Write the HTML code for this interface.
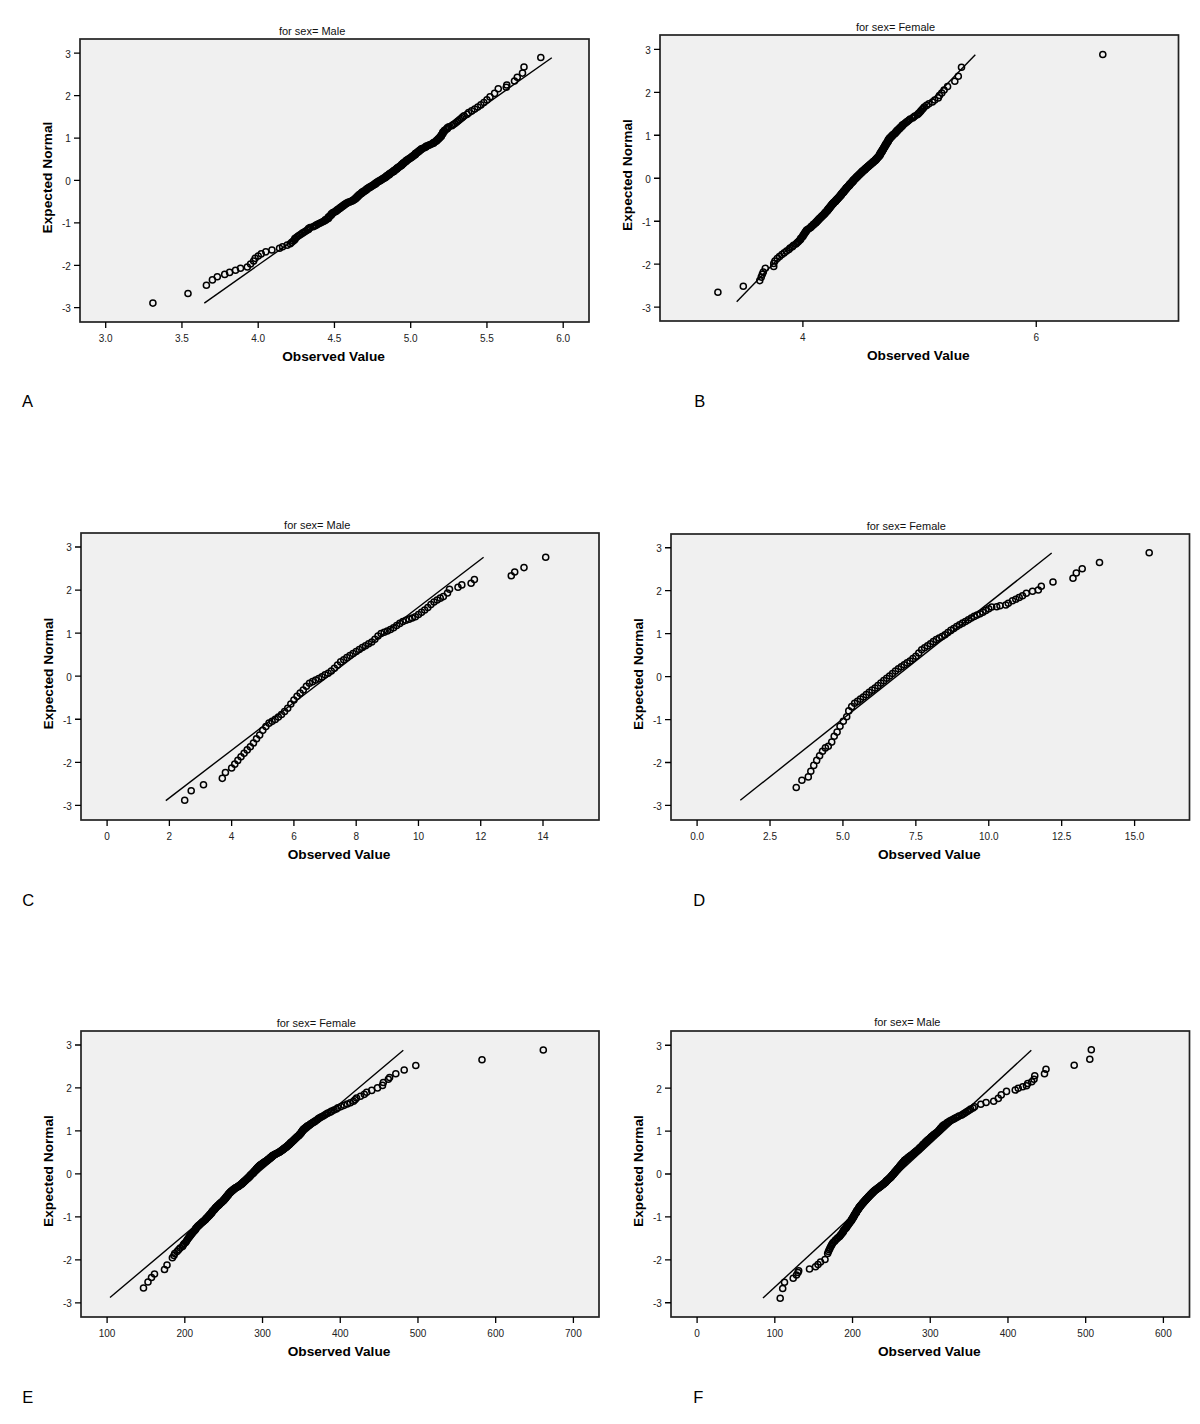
<!DOCTYPE html>
<html><head><meta charset="utf-8"><title>Q-Q plots</title>
<style>
html,body{margin:0;padding:0;background:#fff;}
svg{display:block;font-family:"Liberation Sans", sans-serif;}
</style></head>
<body>
<svg width="1200" height="1424" viewBox="0 0 1200 1424">
<rect width="1200" height="1424" fill="#fff"/>
<rect x="80" y="39" width="509" height="283" fill="#f0f0f0"/>
<g fill="none" stroke="#000" stroke-width="1.5"><circle cx="250.58" cy="264" r="3.05"/><circle cx="253.63" cy="261.01" r="3.05"/><circle cx="255.15" cy="258.36" r="3.05"/><circle cx="258.2" cy="255.99" r="3.05"/><circle cx="261.25" cy="253.84" r="3.05"/><circle cx="265.82" cy="251.86" r="3.05"/><circle cx="271.93" cy="250.02" r="3.05"/><circle cx="279.55" cy="248.3" r="3.05"/><circle cx="282.6" cy="246.69" r="3.05"/><circle cx="287.18" cy="245.17" r="3.05"/><circle cx="290.23" cy="243.73" r="3.05"/><circle cx="291.75" cy="242.36" r="3.05"/><circle cx="293.28" cy="241.05" r="3.05"/><circle cx="294.8" cy="239.8" r="3.05"/><circle cx="294.8" cy="238.59" r="3.05"/><circle cx="296.33" cy="237.43" r="3.05"/><circle cx="297.85" cy="236.31" r="3.05"/><circle cx="299.38" cy="235.23" r="3.05"/><circle cx="300.9" cy="234.19" r="3.05"/><circle cx="302.43" cy="233.17" r="3.05"/><circle cx="303.95" cy="232.18" r="3.05"/><circle cx="305.48" cy="231.23" r="3.05"/><circle cx="307" cy="230.29" r="3.05"/><circle cx="308.53" cy="229.38" r="3.05"/><circle cx="308.53" cy="228.5" r="3.05"/><circle cx="310.05" cy="227.63" r="3.05"/><circle cx="313.1" cy="226.78" r="3.05"/><circle cx="314.63" cy="225.95" r="3.05"/><circle cx="316.15" cy="225.14" r="3.05"/><circle cx="317.68" cy="224.34" r="3.05"/><circle cx="319.2" cy="223.56" r="3.05"/><circle cx="320.73" cy="222.79" r="3.05"/><circle cx="322.25" cy="222.04" r="3.05"/><circle cx="323.77" cy="221.3" r="3.05"/><circle cx="325.3" cy="220.57" r="3.05"/><circle cx="325.3" cy="219.86" r="3.05"/><circle cx="326.83" cy="219.15" r="3.05"/><circle cx="328.35" cy="218.46" r="3.05"/><circle cx="328.35" cy="217.77" r="3.05"/><circle cx="328.35" cy="217.1" r="3.05"/><circle cx="329.88" cy="216.43" r="3.05"/><circle cx="329.88" cy="215.77" r="3.05"/><circle cx="331.4" cy="215.12" r="3.05"/><circle cx="331.4" cy="214.48" r="3.05"/><circle cx="331.4" cy="213.85" r="3.05"/><circle cx="332.93" cy="213.22" r="3.05"/><circle cx="332.93" cy="212.6" r="3.05"/><circle cx="334.45" cy="211.99" r="3.05"/><circle cx="335.97" cy="211.39" r="3.05"/><circle cx="335.97" cy="210.79" r="3.05"/><circle cx="337.5" cy="210.19" r="3.05"/><circle cx="337.5" cy="209.61" r="3.05"/><circle cx="339.03" cy="209.02" r="3.05"/><circle cx="339.03" cy="208.45" r="3.05"/><circle cx="340.55" cy="207.88" r="3.05"/><circle cx="340.55" cy="207.31" r="3.05"/><circle cx="342.07" cy="206.75" r="3.05"/><circle cx="342.07" cy="206.19" r="3.05"/><circle cx="343.6" cy="205.64" r="3.05"/><circle cx="343.6" cy="205.09" r="3.05"/><circle cx="345.13" cy="204.54" r="3.05"/><circle cx="345.13" cy="204" r="3.05"/><circle cx="346.65" cy="203.47" r="3.05"/><circle cx="346.65" cy="202.93" r="3.05"/><circle cx="348.18" cy="202.4" r="3.05"/><circle cx="349.7" cy="201.88" r="3.05"/><circle cx="351.23" cy="201.35" r="3.05"/><circle cx="352.75" cy="200.83" r="3.05"/><circle cx="352.75" cy="200.32" r="3.05"/><circle cx="354.28" cy="199.8" r="3.05"/><circle cx="354.28" cy="199.29" r="3.05"/><circle cx="355.8" cy="198.78" r="3.05"/><circle cx="355.8" cy="198.28" r="3.05"/><circle cx="355.8" cy="197.77" r="3.05"/><circle cx="357.33" cy="197.27" r="3.05"/><circle cx="357.33" cy="196.78" r="3.05"/><circle cx="357.33" cy="196.28" r="3.05"/><circle cx="358.85" cy="195.79" r="3.05"/><circle cx="358.85" cy="195.29" r="3.05"/><circle cx="358.85" cy="194.8" r="3.05"/><circle cx="360.38" cy="194.32" r="3.05"/><circle cx="360.38" cy="193.83" r="3.05"/><circle cx="361.9" cy="193.34" r="3.05"/><circle cx="361.9" cy="192.86" r="3.05"/><circle cx="361.9" cy="192.38" r="3.05"/><circle cx="363.43" cy="191.9" r="3.05"/><circle cx="363.43" cy="191.42" r="3.05"/><circle cx="364.95" cy="190.95" r="3.05"/><circle cx="364.95" cy="190.47" r="3.05"/><circle cx="366.48" cy="190" r="3.05"/><circle cx="366.48" cy="189.52" r="3.05"/><circle cx="366.48" cy="189.05" r="3.05"/><circle cx="368" cy="188.58" r="3.05"/><circle cx="368" cy="188.11" r="3.05"/><circle cx="369.53" cy="187.64" r="3.05"/><circle cx="369.53" cy="187.17" r="3.05"/><circle cx="371.05" cy="186.71" r="3.05"/><circle cx="371.05" cy="186.24" r="3.05"/><circle cx="372.58" cy="185.77" r="3.05"/><circle cx="372.58" cy="185.31" r="3.05"/><circle cx="374.1" cy="184.84" r="3.05"/><circle cx="374.1" cy="184.38" r="3.05"/><circle cx="375.63" cy="183.92" r="3.05"/><circle cx="375.63" cy="183.45" r="3.05"/><circle cx="375.63" cy="182.99" r="3.05"/><circle cx="377.15" cy="182.53" r="3.05"/><circle cx="377.15" cy="182.07" r="3.05"/><circle cx="378.68" cy="181.6" r="3.05"/><circle cx="378.68" cy="181.14" r="3.05"/><circle cx="380.2" cy="180.68" r="3.05"/><circle cx="380.2" cy="180.22" r="3.05"/><circle cx="381.73" cy="179.76" r="3.05"/><circle cx="381.73" cy="179.3" r="3.05"/><circle cx="383.25" cy="178.83" r="3.05"/><circle cx="383.25" cy="178.37" r="3.05"/><circle cx="384.78" cy="177.91" r="3.05"/><circle cx="384.78" cy="177.45" r="3.05"/><circle cx="386.3" cy="176.98" r="3.05"/><circle cx="386.3" cy="176.52" r="3.05"/><circle cx="386.3" cy="176.06" r="3.05"/><circle cx="387.83" cy="175.59" r="3.05"/><circle cx="387.83" cy="175.13" r="3.05"/><circle cx="389.35" cy="174.66" r="3.05"/><circle cx="389.35" cy="174.19" r="3.05"/><circle cx="389.35" cy="173.73" r="3.05"/><circle cx="390.88" cy="173.26" r="3.05"/><circle cx="390.88" cy="172.79" r="3.05"/><circle cx="392.4" cy="172.32" r="3.05"/><circle cx="392.4" cy="171.85" r="3.05"/><circle cx="393.92" cy="171.38" r="3.05"/><circle cx="393.92" cy="170.9" r="3.05"/><circle cx="393.92" cy="170.43" r="3.05"/><circle cx="395.45" cy="169.95" r="3.05"/><circle cx="395.45" cy="169.48" r="3.05"/><circle cx="396.98" cy="169" r="3.05"/><circle cx="396.98" cy="168.52" r="3.05"/><circle cx="396.98" cy="168.04" r="3.05"/><circle cx="398.5" cy="167.56" r="3.05"/><circle cx="398.5" cy="167.07" r="3.05"/><circle cx="400.02" cy="166.58" r="3.05"/><circle cx="400.02" cy="166.1" r="3.05"/><circle cx="401.55" cy="165.61" r="3.05"/><circle cx="401.55" cy="165.11" r="3.05"/><circle cx="401.55" cy="164.62" r="3.05"/><circle cx="403.08" cy="164.12" r="3.05"/><circle cx="403.08" cy="163.63" r="3.05"/><circle cx="403.08" cy="163.13" r="3.05"/><circle cx="404.6" cy="162.62" r="3.05"/><circle cx="404.6" cy="162.12" r="3.05"/><circle cx="406.12" cy="161.61" r="3.05"/><circle cx="406.12" cy="161.1" r="3.05"/><circle cx="406.12" cy="160.58" r="3.05"/><circle cx="407.65" cy="160.07" r="3.05"/><circle cx="407.65" cy="159.55" r="3.05"/><circle cx="409.18" cy="159.02" r="3.05"/><circle cx="409.18" cy="158.5" r="3.05"/><circle cx="410.7" cy="157.97" r="3.05"/><circle cx="410.7" cy="157.43" r="3.05"/><circle cx="412.23" cy="156.9" r="3.05"/><circle cx="412.23" cy="156.36" r="3.05"/><circle cx="413.75" cy="155.81" r="3.05"/><circle cx="413.75" cy="155.26" r="3.05"/><circle cx="415.28" cy="154.71" r="3.05"/><circle cx="415.28" cy="154.15" r="3.05"/><circle cx="415.28" cy="153.59" r="3.05"/><circle cx="416.8" cy="153.02" r="3.05"/><circle cx="416.8" cy="152.45" r="3.05"/><circle cx="418.32" cy="151.88" r="3.05"/><circle cx="418.32" cy="151.29" r="3.05"/><circle cx="419.85" cy="150.71" r="3.05"/><circle cx="419.85" cy="150.11" r="3.05"/><circle cx="421.38" cy="149.51" r="3.05"/><circle cx="421.38" cy="148.91" r="3.05"/><circle cx="422.9" cy="148.3" r="3.05"/><circle cx="424.43" cy="147.68" r="3.05"/><circle cx="425.95" cy="147.05" r="3.05"/><circle cx="425.95" cy="146.42" r="3.05"/><circle cx="427.48" cy="145.78" r="3.05"/><circle cx="429" cy="145.13" r="3.05"/><circle cx="430.52" cy="144.47" r="3.05"/><circle cx="432.05" cy="143.8" r="3.05"/><circle cx="433.58" cy="143.13" r="3.05"/><circle cx="433.58" cy="142.44" r="3.05"/><circle cx="435.1" cy="141.75" r="3.05"/><circle cx="436.62" cy="141.04" r="3.05"/><circle cx="436.62" cy="140.33" r="3.05"/><circle cx="438.15" cy="139.6" r="3.05"/><circle cx="438.15" cy="138.86" r="3.05"/><circle cx="439.68" cy="138.11" r="3.05"/><circle cx="439.68" cy="137.34" r="3.05"/><circle cx="441.2" cy="136.56" r="3.05"/><circle cx="441.2" cy="135.76" r="3.05"/><circle cx="441.2" cy="134.95" r="3.05"/><circle cx="442.73" cy="134.12" r="3.05"/><circle cx="442.73" cy="133.27" r="3.05"/><circle cx="442.73" cy="132.4" r="3.05"/><circle cx="444.25" cy="131.52" r="3.05"/><circle cx="444.25" cy="130.61" r="3.05"/><circle cx="445.78" cy="129.67" r="3.05"/><circle cx="447.3" cy="128.72" r="3.05"/><circle cx="447.3" cy="127.73" r="3.05"/><circle cx="448.83" cy="126.71" r="3.05"/><circle cx="451.88" cy="125.67" r="3.05"/><circle cx="453.4" cy="124.59" r="3.05"/><circle cx="454.93" cy="123.47" r="3.05"/><circle cx="456.45" cy="122.31" r="3.05"/><circle cx="457.98" cy="121.1" r="3.05"/><circle cx="459.5" cy="119.85" r="3.05"/><circle cx="461.03" cy="118.54" r="3.05"/><circle cx="462.55" cy="117.17" r="3.05"/><circle cx="464.08" cy="115.73" r="3.05"/><circle cx="467.12" cy="114.21" r="3.05"/><circle cx="468.65" cy="112.6" r="3.05"/><circle cx="471.7" cy="110.88" r="3.05"/><circle cx="474.75" cy="109.04" r="3.05"/><circle cx="477.8" cy="107.06" r="3.05"/><circle cx="480.85" cy="104.91" r="3.05"/><circle cx="483.9" cy="102.54" r="3.05"/><circle cx="486.95" cy="99.89" r="3.05"/><circle cx="490" cy="96.9" r="3.05"/><circle cx="494.57" cy="93.41" r="3.05"/><circle cx="152.9" cy="303.1" r="3.05"/><circle cx="188" cy="293.5" r="3.05"/><circle cx="206.4" cy="285.3" r="3.05"/><circle cx="212.4" cy="279.9" r="3.05"/><circle cx="217.3" cy="276.7" r="3.05"/><circle cx="224.7" cy="274.4" r="3.05"/><circle cx="229.6" cy="272.4" r="3.05"/><circle cx="235.5" cy="270.3" r="3.05"/><circle cx="240.5" cy="268.2" r="3.05"/><circle cx="247.3" cy="267" r="3.05"/><circle cx="498.25" cy="88.75" r="3.05"/><circle cx="506.25" cy="87.25" r="3.05"/><circle cx="506.75" cy="85" r="3.05"/><circle cx="514.5" cy="81" r="3.05"/><circle cx="517.25" cy="77.25" r="3.05"/><circle cx="522.5" cy="73.1" r="3.05"/><circle cx="524" cy="67" r="3.05"/><circle cx="540.8" cy="57.5" r="3.05"/></g>
<line x1="204.3" y1="303.1" x2="551.8" y2="57.8" stroke="#000" stroke-width="1.4"/>
<rect x="80" y="39" width="509" height="283" fill="none" stroke="#222" stroke-width="1.7"/>
<path d="M74 53.2H80M74 95.62H80M74 138.03H80M74 180.45H80M74 222.87H80M74 265.28H80M74 307.7H80M105.7 322V328M181.95 322V328M258.2 322V328M334.45 322V328M410.7 322V328M486.95 322V328M563.2 322V328" stroke="#000" stroke-width="1.3" fill="none"/>
<g font-size="10" fill="#222"><text x="70.8" y="57.6" text-anchor="end">3</text><text x="70.8" y="100.02" text-anchor="end">2</text><text x="70.8" y="142.43" text-anchor="end">1</text><text x="70.8" y="184.85" text-anchor="end">0</text><text x="70.8" y="227.27" text-anchor="end">-1</text><text x="70.8" y="269.68" text-anchor="end">-2</text><text x="70.8" y="312.1" text-anchor="end">-3</text><text x="105.7" y="341.6" text-anchor="middle">3.0</text><text x="181.95" y="341.6" text-anchor="middle">3.5</text><text x="258.2" y="341.6" text-anchor="middle">4.0</text><text x="334.45" y="341.6" text-anchor="middle">4.5</text><text x="410.7" y="341.6" text-anchor="middle">5.0</text><text x="486.95" y="341.6" text-anchor="middle">5.5</text><text x="563.2" y="341.6" text-anchor="middle">6.0</text></g>
<text x="312.1" y="34.6" text-anchor="middle" font-size="11" fill="#111">for sex= Male</text>
<text x="333.5" y="361" text-anchor="middle" font-size="13.7" font-weight="bold" fill="#000">Observed Value</text>
<text transform="translate(52.2 177.5) rotate(-90)" text-anchor="middle" font-size="13.7" font-weight="bold" fill="#000">Expected Normal</text>
<text x="22.0" y="407.3" font-size="16.5" fill="#000">A</text>
<rect x="660" y="35" width="518.5" height="286" fill="#f0f0f0"/>
<g fill="none" stroke="#000" stroke-width="1.5"><circle cx="773.73" cy="266.46" r="3.05"/><circle cx="773.73" cy="263.52" r="3.05"/><circle cx="774.9" cy="260.93" r="3.05"/><circle cx="777.23" cy="258.61" r="3.05"/><circle cx="779.57" cy="256.5" r="3.05"/><circle cx="781.9" cy="254.56" r="3.05"/><circle cx="784.23" cy="252.77" r="3.05"/><circle cx="786.57" cy="251.1" r="3.05"/><circle cx="788.9" cy="249.53" r="3.05"/><circle cx="790.07" cy="248.06" r="3.05"/><circle cx="792.4" cy="246.66" r="3.05"/><circle cx="793.57" cy="245.33" r="3.05"/><circle cx="795.9" cy="244.06" r="3.05"/><circle cx="797.07" cy="242.84" r="3.05"/><circle cx="798.23" cy="241.68" r="3.05"/><circle cx="799.4" cy="240.56" r="3.05"/><circle cx="800.57" cy="239.48" r="3.05"/><circle cx="800.57" cy="238.43" r="3.05"/><circle cx="801.73" cy="237.43" r="3.05"/><circle cx="802.9" cy="236.45" r="3.05"/><circle cx="802.9" cy="235.5" r="3.05"/><circle cx="804.07" cy="234.58" r="3.05"/><circle cx="804.07" cy="233.69" r="3.05"/><circle cx="805.23" cy="232.82" r="3.05"/><circle cx="805.23" cy="231.97" r="3.05"/><circle cx="806.4" cy="231.14" r="3.05"/><circle cx="806.4" cy="230.33" r="3.05"/><circle cx="807.57" cy="229.53" r="3.05"/><circle cx="808.73" cy="228.76" r="3.05"/><circle cx="809.9" cy="228" r="3.05"/><circle cx="811.07" cy="227.26" r="3.05"/><circle cx="811.07" cy="226.53" r="3.05"/><circle cx="812.23" cy="225.81" r="3.05"/><circle cx="813.4" cy="225.11" r="3.05"/><circle cx="813.4" cy="224.42" r="3.05"/><circle cx="814.57" cy="223.74" r="3.05"/><circle cx="815.73" cy="223.07" r="3.05"/><circle cx="815.73" cy="222.41" r="3.05"/><circle cx="816.9" cy="221.77" r="3.05"/><circle cx="816.9" cy="221.13" r="3.05"/><circle cx="818.07" cy="220.5" r="3.05"/><circle cx="818.07" cy="219.88" r="3.05"/><circle cx="819.23" cy="219.27" r="3.05"/><circle cx="819.23" cy="218.67" r="3.05"/><circle cx="820.4" cy="218.08" r="3.05"/><circle cx="820.4" cy="217.49" r="3.05"/><circle cx="821.57" cy="216.91" r="3.05"/><circle cx="821.57" cy="216.34" r="3.05"/><circle cx="822.73" cy="215.77" r="3.05"/><circle cx="822.73" cy="215.21" r="3.05"/><circle cx="823.9" cy="214.66" r="3.05"/><circle cx="823.9" cy="214.11" r="3.05"/><circle cx="825.07" cy="213.57" r="3.05"/><circle cx="825.07" cy="213.03" r="3.05"/><circle cx="825.07" cy="212.5" r="3.05"/><circle cx="826.24" cy="211.98" r="3.05"/><circle cx="826.24" cy="211.46" r="3.05"/><circle cx="827.4" cy="210.94" r="3.05"/><circle cx="827.4" cy="210.43" r="3.05"/><circle cx="827.4" cy="209.92" r="3.05"/><circle cx="828.57" cy="209.42" r="3.05"/><circle cx="828.57" cy="208.92" r="3.05"/><circle cx="828.57" cy="208.43" r="3.05"/><circle cx="829.74" cy="207.94" r="3.05"/><circle cx="829.74" cy="207.45" r="3.05"/><circle cx="829.74" cy="206.97" r="3.05"/><circle cx="830.9" cy="206.49" r="3.05"/><circle cx="830.9" cy="206.02" r="3.05"/><circle cx="830.9" cy="205.54" r="3.05"/><circle cx="832.07" cy="205.08" r="3.05"/><circle cx="832.07" cy="204.61" r="3.05"/><circle cx="832.07" cy="204.15" r="3.05"/><circle cx="833.24" cy="203.69" r="3.05"/><circle cx="833.24" cy="203.23" r="3.05"/><circle cx="833.24" cy="202.78" r="3.05"/><circle cx="834.4" cy="202.33" r="3.05"/><circle cx="834.4" cy="201.88" r="3.05"/><circle cx="835.57" cy="201.43" r="3.05"/><circle cx="835.57" cy="200.99" r="3.05"/><circle cx="835.57" cy="200.55" r="3.05"/><circle cx="836.74" cy="200.11" r="3.05"/><circle cx="836.74" cy="199.67" r="3.05"/><circle cx="836.74" cy="199.24" r="3.05"/><circle cx="837.9" cy="198.81" r="3.05"/><circle cx="837.9" cy="198.38" r="3.05"/><circle cx="837.9" cy="197.95" r="3.05"/><circle cx="839.07" cy="197.52" r="3.05"/><circle cx="839.07" cy="197.1" r="3.05"/><circle cx="839.07" cy="196.68" r="3.05"/><circle cx="840.24" cy="196.26" r="3.05"/><circle cx="840.24" cy="195.84" r="3.05"/><circle cx="840.24" cy="195.42" r="3.05"/><circle cx="841.4" cy="195" r="3.05"/><circle cx="841.4" cy="194.59" r="3.05"/><circle cx="841.4" cy="194.18" r="3.05"/><circle cx="841.4" cy="193.77" r="3.05"/><circle cx="842.57" cy="193.36" r="3.05"/><circle cx="842.57" cy="192.95" r="3.05"/><circle cx="842.57" cy="192.54" r="3.05"/><circle cx="843.74" cy="192.14" r="3.05"/><circle cx="843.74" cy="191.73" r="3.05"/><circle cx="843.74" cy="191.33" r="3.05"/><circle cx="843.74" cy="190.93" r="3.05"/><circle cx="844.9" cy="190.53" r="3.05"/><circle cx="844.9" cy="190.13" r="3.05"/><circle cx="844.9" cy="189.73" r="3.05"/><circle cx="846.07" cy="189.33" r="3.05"/><circle cx="846.07" cy="188.93" r="3.05"/><circle cx="846.07" cy="188.54" r="3.05"/><circle cx="846.07" cy="188.14" r="3.05"/><circle cx="847.24" cy="187.75" r="3.05"/><circle cx="847.24" cy="187.35" r="3.05"/><circle cx="847.24" cy="186.96" r="3.05"/><circle cx="848.4" cy="186.57" r="3.05"/><circle cx="848.4" cy="186.18" r="3.05"/><circle cx="848.4" cy="185.79" r="3.05"/><circle cx="849.57" cy="185.4" r="3.05"/><circle cx="849.57" cy="185.01" r="3.05"/><circle cx="849.57" cy="184.62" r="3.05"/><circle cx="849.57" cy="184.23" r="3.05"/><circle cx="850.74" cy="183.84" r="3.05"/><circle cx="850.74" cy="183.45" r="3.05"/><circle cx="850.74" cy="183.07" r="3.05"/><circle cx="851.9" cy="182.68" r="3.05"/><circle cx="851.9" cy="182.29" r="3.05"/><circle cx="851.9" cy="181.91" r="3.05"/><circle cx="853.07" cy="181.52" r="3.05"/><circle cx="853.07" cy="181.14" r="3.05"/><circle cx="853.07" cy="180.75" r="3.05"/><circle cx="853.07" cy="180.37" r="3.05"/><circle cx="854.24" cy="179.98" r="3.05"/><circle cx="854.24" cy="179.6" r="3.05"/><circle cx="854.24" cy="179.21" r="3.05"/><circle cx="855.4" cy="178.83" r="3.05"/><circle cx="855.4" cy="178.44" r="3.05"/><circle cx="855.4" cy="178.06" r="3.05"/><circle cx="856.57" cy="177.67" r="3.05"/><circle cx="856.57" cy="177.29" r="3.05"/><circle cx="856.57" cy="176.9" r="3.05"/><circle cx="857.74" cy="176.52" r="3.05"/><circle cx="857.74" cy="176.13" r="3.05"/><circle cx="857.74" cy="175.75" r="3.05"/><circle cx="858.9" cy="175.36" r="3.05"/><circle cx="858.9" cy="174.98" r="3.05"/><circle cx="858.9" cy="174.59" r="3.05"/><circle cx="860.07" cy="174.21" r="3.05"/><circle cx="860.07" cy="173.82" r="3.05"/><circle cx="860.07" cy="173.43" r="3.05"/><circle cx="861.24" cy="173.05" r="3.05"/><circle cx="861.24" cy="172.66" r="3.05"/><circle cx="861.24" cy="172.27" r="3.05"/><circle cx="862.4" cy="171.88" r="3.05"/><circle cx="862.4" cy="171.49" r="3.05"/><circle cx="862.4" cy="171.1" r="3.05"/><circle cx="863.57" cy="170.71" r="3.05"/><circle cx="863.57" cy="170.32" r="3.05"/><circle cx="864.74" cy="169.93" r="3.05"/><circle cx="864.74" cy="169.54" r="3.05"/><circle cx="864.74" cy="169.15" r="3.05"/><circle cx="865.9" cy="168.75" r="3.05"/><circle cx="865.9" cy="168.36" r="3.05"/><circle cx="865.9" cy="167.96" r="3.05"/><circle cx="867.07" cy="167.57" r="3.05"/><circle cx="867.07" cy="167.17" r="3.05"/><circle cx="868.24" cy="166.77" r="3.05"/><circle cx="868.24" cy="166.37" r="3.05"/><circle cx="868.24" cy="165.97" r="3.05"/><circle cx="869.4" cy="165.57" r="3.05"/><circle cx="869.4" cy="165.17" r="3.05"/><circle cx="870.57" cy="164.77" r="3.05"/><circle cx="870.57" cy="164.36" r="3.05"/><circle cx="870.57" cy="163.96" r="3.05"/><circle cx="871.74" cy="163.55" r="3.05"/><circle cx="871.74" cy="163.14" r="3.05"/><circle cx="872.91" cy="162.73" r="3.05"/><circle cx="872.91" cy="162.32" r="3.05"/><circle cx="872.91" cy="161.91" r="3.05"/><circle cx="874.07" cy="161.5" r="3.05"/><circle cx="874.07" cy="161.08" r="3.05"/><circle cx="875.24" cy="160.66" r="3.05"/><circle cx="875.24" cy="160.24" r="3.05"/><circle cx="875.24" cy="159.82" r="3.05"/><circle cx="876.41" cy="159.4" r="3.05"/><circle cx="876.41" cy="158.98" r="3.05"/><circle cx="876.41" cy="158.55" r="3.05"/><circle cx="877.57" cy="158.12" r="3.05"/><circle cx="877.57" cy="157.69" r="3.05"/><circle cx="877.57" cy="157.26" r="3.05"/><circle cx="878.74" cy="156.83" r="3.05"/><circle cx="878.74" cy="156.39" r="3.05"/><circle cx="878.74" cy="155.95" r="3.05"/><circle cx="879.91" cy="155.51" r="3.05"/><circle cx="879.91" cy="155.07" r="3.05"/><circle cx="879.91" cy="154.62" r="3.05"/><circle cx="879.91" cy="154.17" r="3.05"/><circle cx="879.91" cy="153.72" r="3.05"/><circle cx="881.07" cy="153.27" r="3.05"/><circle cx="881.07" cy="152.81" r="3.05"/><circle cx="881.07" cy="152.35" r="3.05"/><circle cx="881.07" cy="151.89" r="3.05"/><circle cx="882.24" cy="151.42" r="3.05"/><circle cx="882.24" cy="150.96" r="3.05"/><circle cx="882.24" cy="150.48" r="3.05"/><circle cx="882.24" cy="150.01" r="3.05"/><circle cx="883.41" cy="149.53" r="3.05"/><circle cx="883.41" cy="149.05" r="3.05"/><circle cx="883.41" cy="148.56" r="3.05"/><circle cx="883.41" cy="148.07" r="3.05"/><circle cx="884.57" cy="147.58" r="3.05"/><circle cx="884.57" cy="147.08" r="3.05"/><circle cx="884.57" cy="146.58" r="3.05"/><circle cx="884.57" cy="146.07" r="3.05"/><circle cx="885.74" cy="145.56" r="3.05"/><circle cx="885.74" cy="145.04" r="3.05"/><circle cx="885.74" cy="144.52" r="3.05"/><circle cx="885.74" cy="144" r="3.05"/><circle cx="886.91" cy="143.47" r="3.05"/><circle cx="886.91" cy="142.93" r="3.05"/><circle cx="886.91" cy="142.39" r="3.05"/><circle cx="888.07" cy="141.84" r="3.05"/><circle cx="888.07" cy="141.29" r="3.05"/><circle cx="888.07" cy="140.73" r="3.05"/><circle cx="888.07" cy="140.16" r="3.05"/><circle cx="889.24" cy="139.59" r="3.05"/><circle cx="889.24" cy="139.01" r="3.05"/><circle cx="889.24" cy="138.42" r="3.05"/><circle cx="890.41" cy="137.83" r="3.05"/><circle cx="890.41" cy="137.23" r="3.05"/><circle cx="891.57" cy="136.62" r="3.05"/><circle cx="891.57" cy="136" r="3.05"/><circle cx="892.74" cy="135.37" r="3.05"/><circle cx="892.74" cy="134.73" r="3.05"/><circle cx="893.91" cy="134.09" r="3.05"/><circle cx="895.07" cy="133.43" r="3.05"/><circle cx="895.07" cy="132.76" r="3.05"/><circle cx="896.24" cy="132.08" r="3.05"/><circle cx="896.24" cy="131.39" r="3.05"/><circle cx="897.41" cy="130.69" r="3.05"/><circle cx="897.41" cy="129.97" r="3.05"/><circle cx="898.57" cy="129.24" r="3.05"/><circle cx="899.74" cy="128.5" r="3.05"/><circle cx="899.74" cy="127.74" r="3.05"/><circle cx="900.91" cy="126.97" r="3.05"/><circle cx="902.07" cy="126.17" r="3.05"/><circle cx="902.07" cy="125.36" r="3.05"/><circle cx="903.24" cy="124.53" r="3.05"/><circle cx="904.41" cy="123.68" r="3.05"/><circle cx="905.57" cy="122.81" r="3.05"/><circle cx="906.74" cy="121.92" r="3.05"/><circle cx="907.91" cy="121" r="3.05"/><circle cx="909.07" cy="120.05" r="3.05"/><circle cx="910.24" cy="119.07" r="3.05"/><circle cx="912.57" cy="118.07" r="3.05"/><circle cx="913.74" cy="117.02" r="3.05"/><circle cx="914.91" cy="115.94" r="3.05"/><circle cx="917.24" cy="114.82" r="3.05"/><circle cx="918.41" cy="113.66" r="3.05"/><circle cx="919.58" cy="112.44" r="3.05"/><circle cx="920.74" cy="111.17" r="3.05"/><circle cx="921.91" cy="109.84" r="3.05"/><circle cx="923.08" cy="108.44" r="3.05"/><circle cx="924.24" cy="106.97" r="3.05"/><circle cx="926.58" cy="105.4" r="3.05"/><circle cx="928.91" cy="103.73" r="3.05"/><circle cx="932.41" cy="101.94" r="3.05"/><circle cx="934.74" cy="100" r="3.05"/><circle cx="938.24" cy="97.89" r="3.05"/><circle cx="939.41" cy="95.57" r="3.05"/><circle cx="941.74" cy="92.98" r="3.05"/><circle cx="944.08" cy="90.04" r="3.05"/><circle cx="947.58" cy="86.61" r="3.05"/><circle cx="717.9" cy="292.3" r="3.05"/><circle cx="743.3" cy="286.25" r="3.05"/><circle cx="759.75" cy="280.6" r="3.05"/><circle cx="761.25" cy="277.1" r="3.05"/><circle cx="762.3" cy="274.2" r="3.05"/><circle cx="763.3" cy="272.1" r="3.05"/><circle cx="765.3" cy="268.3" r="3.05"/><circle cx="954.8" cy="81.3" r="3.05"/><circle cx="958.3" cy="76.3" r="3.05"/><circle cx="961.5" cy="67.3" r="3.05"/><circle cx="1102.8" cy="54.5" r="3.05"/></g>
<line x1="736.7" y1="301.8" x2="975.3" y2="54.7" stroke="#000" stroke-width="1.4"/>
<rect x="660" y="35" width="518.5" height="286" fill="none" stroke="#222" stroke-width="1.7"/>
<path d="M654 49.3H660M654 92.28H660M654 135.27H660M654 178.25H660M654 221.23H660M654 264.22H660M654 307.2H660M802.9 321V327M1036.25 321V327" stroke="#000" stroke-width="1.3" fill="none"/>
<g font-size="10" fill="#222"><text x="650.8" y="53.7" text-anchor="end">3</text><text x="650.8" y="96.68" text-anchor="end">2</text><text x="650.8" y="139.67" text-anchor="end">1</text><text x="650.8" y="182.65" text-anchor="end">0</text><text x="650.8" y="225.63" text-anchor="end">-1</text><text x="650.8" y="268.62" text-anchor="end">-2</text><text x="650.8" y="311.6" text-anchor="end">-3</text><text x="802.9" y="340.6" text-anchor="middle">4</text><text x="1036.25" y="340.6" text-anchor="middle">6</text></g>
<text x="895.5" y="31.0" text-anchor="middle" font-size="11" fill="#111">for sex= Female</text>
<text x="918.25" y="360" text-anchor="middle" font-size="13.7" font-weight="bold" fill="#000">Observed Value</text>
<text transform="translate(632.2 175) rotate(-90)" text-anchor="middle" font-size="13.7" font-weight="bold" fill="#000">Expected Normal</text>
<text x="694.3" y="407.3" font-size="16.5" fill="#000">B</text>
<rect x="81" y="533" width="518" height="287" fill="#f0f0f0"/>
<g fill="none" stroke="#000" stroke-width="1.5"><circle cx="222.3" cy="778.36" r="3.05"/><circle cx="225.42" cy="772.52" r="3.05"/><circle cx="231.64" cy="768.07" r="3.05"/><circle cx="234.76" cy="764.13" r="3.05"/><circle cx="237.87" cy="760.37" r="3.05"/><circle cx="240.98" cy="756.69" r="3.05"/><circle cx="244.1" cy="753.36" r="3.05"/><circle cx="247.21" cy="749.89" r="3.05"/><circle cx="250.32" cy="746.78" r="3.05"/><circle cx="253.44" cy="743.01" r="3.05"/><circle cx="256.55" cy="738.75" r="3.05"/><circle cx="259.66" cy="735.1" r="3.05"/><circle cx="262.78" cy="730.36" r="3.05"/><circle cx="265.89" cy="726.6" r="3.05"/><circle cx="269.01" cy="723.13" r="3.05"/><circle cx="272.12" cy="721.37" r="3.05"/><circle cx="275.23" cy="719.4" r="3.05"/><circle cx="278.35" cy="717.11" r="3.05"/><circle cx="281.46" cy="714.46" r="3.05"/><circle cx="284.57" cy="711.43" r="3.05"/><circle cx="287.69" cy="708.31" r="3.05"/><circle cx="290.8" cy="704.07" r="3.05"/><circle cx="293.91" cy="700.1" r="3.05"/><circle cx="297.03" cy="696.36" r="3.05"/><circle cx="300.14" cy="693.16" r="3.05"/><circle cx="303.25" cy="690.04" r="3.05"/><circle cx="306.37" cy="686.32" r="3.05"/><circle cx="309.48" cy="683.21" r="3.05"/><circle cx="312.6" cy="681.65" r="3.05"/><circle cx="315.71" cy="680.1" r="3.05"/><circle cx="318.82" cy="678.54" r="3.05"/><circle cx="321.94" cy="676.89" r="3.05"/><circle cx="325.05" cy="674.86" r="3.05"/><circle cx="328.16" cy="673.27" r="3.05"/><circle cx="331.28" cy="671.12" r="3.05"/><circle cx="334.39" cy="668.33" r="3.05"/><circle cx="337.5" cy="664.98" r="3.05"/><circle cx="340.62" cy="661.88" r="3.05"/><circle cx="343.73" cy="659.74" r="3.05"/><circle cx="346.84" cy="657.6" r="3.05"/><circle cx="349.96" cy="655.53" r="3.05"/><circle cx="353.07" cy="653.45" r="3.05"/><circle cx="356.19" cy="651.45" r="3.05"/><circle cx="359.3" cy="649.45" r="3.05"/><circle cx="362.41" cy="647.56" r="3.05"/><circle cx="365.53" cy="645.7" r="3.05"/><circle cx="368.64" cy="643.82" r="3.05"/><circle cx="371.75" cy="641.94" r="3.05"/><circle cx="374.87" cy="639.29" r="3.05"/><circle cx="377.98" cy="636.02" r="3.05"/><circle cx="381.09" cy="633.56" r="3.05"/><circle cx="384.21" cy="632.3" r="3.05"/><circle cx="387.32" cy="630.99" r="3.05"/><circle cx="390.43" cy="629.43" r="3.05"/><circle cx="393.55" cy="627.81" r="3.05"/><circle cx="396.66" cy="625.44" r="3.05"/><circle cx="399.78" cy="623.38" r="3.05"/><circle cx="402.89" cy="621.51" r="3.05"/><circle cx="406" cy="620.23" r="3.05"/><circle cx="409.12" cy="619.17" r="3.05"/><circle cx="412.23" cy="617.96" r="3.05"/><circle cx="415.34" cy="616.72" r="3.05"/><circle cx="418.46" cy="614.56" r="3.05"/><circle cx="421.57" cy="612.36" r="3.05"/><circle cx="424.68" cy="610.02" r="3.05"/><circle cx="427.8" cy="607.54" r="3.05"/><circle cx="430.91" cy="604.59" r="3.05"/><circle cx="434.02" cy="601.97" r="3.05"/><circle cx="437.14" cy="599.95" r="3.05"/><circle cx="440.25" cy="598.16" r="3.05"/><circle cx="443.37" cy="596.61" r="3.05"/><circle cx="184.7" cy="800.3" r="3.05"/><circle cx="191.2" cy="790.8" r="3.05"/><circle cx="203.5" cy="784.8" r="3.05"/><circle cx="447.5" cy="593" r="3.05"/><circle cx="449.5" cy="589.25" r="3.05"/><circle cx="458" cy="587.2" r="3.05"/><circle cx="461.8" cy="584.9" r="3.05"/><circle cx="471.1" cy="583.3" r="3.05"/><circle cx="474.4" cy="579.6" r="3.05"/><circle cx="511.3" cy="575.7" r="3.05"/><circle cx="514.7" cy="572" r="3.05"/><circle cx="524" cy="567.6" r="3.05"/><circle cx="545.7" cy="557.3" r="3.05"/></g>
<line x1="165.8" y1="800.6" x2="483.6" y2="557.3" stroke="#000" stroke-width="1.4"/>
<rect x="81" y="533" width="518" height="287" fill="none" stroke="#222" stroke-width="1.7"/>
<path d="M75 547H81M75 590.07H81M75 633.13H81M75 676.2H81M75 719.27H81M75 762.33H81M75 805.4H81M107.1 820V826M169.37 820V826M231.64 820V826M293.91 820V826M356.19 820V826M418.46 820V826M480.73 820V826M543 820V826" stroke="#000" stroke-width="1.3" fill="none"/>
<g font-size="10" fill="#222"><text x="71.8" y="551.4" text-anchor="end">3</text><text x="71.8" y="594.47" text-anchor="end">2</text><text x="71.8" y="637.53" text-anchor="end">1</text><text x="71.8" y="680.6" text-anchor="end">0</text><text x="71.8" y="723.67" text-anchor="end">-1</text><text x="71.8" y="766.73" text-anchor="end">-2</text><text x="71.8" y="809.8" text-anchor="end">-3</text><text x="107.1" y="839.6" text-anchor="middle">0</text><text x="169.37" y="839.6" text-anchor="middle">2</text><text x="231.64" y="839.6" text-anchor="middle">4</text><text x="293.91" y="839.6" text-anchor="middle">6</text><text x="356.19" y="839.6" text-anchor="middle">8</text><text x="418.46" y="839.6" text-anchor="middle">10</text><text x="480.73" y="839.6" text-anchor="middle">12</text><text x="543" y="839.6" text-anchor="middle">14</text></g>
<text x="317.25" y="528.5" text-anchor="middle" font-size="11" fill="#111">for sex= Male</text>
<text x="339" y="859" text-anchor="middle" font-size="13.7" font-weight="bold" fill="#000">Observed Value</text>
<text transform="translate(53.2 673.5) rotate(-90)" text-anchor="middle" font-size="13.7" font-weight="bold" fill="#000">Expected Normal</text>
<text x="22.3" y="906.1" font-size="16.5" fill="#000">C</text>
<rect x="671" y="534" width="518.5" height="286" fill="#f0f0f0"/>
<g fill="none" stroke="#000" stroke-width="1.5"><circle cx="848.77" cy="710.91" r="3.05"/><circle cx="851.68" cy="706.67" r="3.05"/><circle cx="854.6" cy="703.24" r="3.05"/><circle cx="857.52" cy="701.38" r="3.05"/><circle cx="860.43" cy="699.17" r="3.05"/><circle cx="863.35" cy="696.96" r="3.05"/><circle cx="866.27" cy="694.65" r="3.05"/><circle cx="869.18" cy="692.35" r="3.05"/><circle cx="872.1" cy="690.13" r="3.05"/><circle cx="875.02" cy="687.96" r="3.05"/><circle cx="877.93" cy="685.63" r="3.05"/><circle cx="880.85" cy="683.12" r="3.05"/><circle cx="883.77" cy="680.63" r="3.05"/><circle cx="886.68" cy="678.32" r="3.05"/><circle cx="889.6" cy="676.02" r="3.05"/><circle cx="892.52" cy="673.56" r="3.05"/><circle cx="895.43" cy="671.08" r="3.05"/><circle cx="898.35" cy="668.83" r="3.05"/><circle cx="901.27" cy="666.75" r="3.05"/><circle cx="904.18" cy="664.73" r="3.05"/><circle cx="907.1" cy="662.86" r="3.05"/><circle cx="910.02" cy="660.99" r="3.05"/><circle cx="912.93" cy="658.59" r="3.05"/><circle cx="915.85" cy="656.2" r="3.05"/><circle cx="918.77" cy="653" r="3.05"/><circle cx="921.68" cy="649.72" r="3.05"/><circle cx="924.6" cy="647.81" r="3.05"/><circle cx="927.52" cy="645.91" r="3.05"/><circle cx="930.43" cy="643.84" r="3.05"/><circle cx="933.35" cy="641.67" r="3.05"/><circle cx="936.27" cy="639.49" r="3.05"/><circle cx="939.18" cy="638.03" r="3.05"/><circle cx="942.1" cy="636.58" r="3.05"/><circle cx="945.02" cy="634.8" r="3.05"/><circle cx="947.93" cy="632.6" r="3.05"/><circle cx="950.85" cy="630.4" r="3.05"/><circle cx="953.77" cy="628.47" r="3.05"/><circle cx="956.68" cy="626.59" r="3.05"/><circle cx="959.6" cy="624.78" r="3.05"/><circle cx="962.52" cy="623.17" r="3.05"/><circle cx="965.43" cy="621.55" r="3.05"/><circle cx="968.35" cy="619.84" r="3.05"/><circle cx="971.27" cy="618.09" r="3.05"/><circle cx="974.18" cy="616.41" r="3.05"/><circle cx="977.1" cy="615.1" r="3.05"/><circle cx="980.02" cy="613.8" r="3.05"/><circle cx="982.93" cy="612.24" r="3.05"/><circle cx="985.85" cy="610.49" r="3.05"/><circle cx="988.77" cy="608.74" r="3.05"/><circle cx="991.68" cy="606.99" r="3.05"/><circle cx="796.25" cy="787.5" r="3.05"/><circle cx="801.9" cy="780.25" r="3.05"/><circle cx="808.3" cy="776.9" r="3.05"/><circle cx="810.8" cy="771.25" r="3.05"/><circle cx="813.75" cy="765.4" r="3.05"/><circle cx="816.7" cy="760.4" r="3.05"/><circle cx="819.6" cy="755.8" r="3.05"/><circle cx="822.5" cy="751.25" r="3.05"/><circle cx="825.4" cy="747.9" r="3.05"/><circle cx="828.3" cy="746.25" r="3.05"/><circle cx="831.7" cy="742.1" r="3.05"/><circle cx="834.2" cy="736.25" r="3.05"/><circle cx="837.1" cy="732.1" r="3.05"/><circle cx="840" cy="726.25" r="3.05"/><circle cx="843.3" cy="721.25" r="3.05"/><circle cx="846.7" cy="716.7" r="3.05"/><circle cx="1149.2" cy="552.8" r="3.05"/><circle cx="1099.5" cy="562.5" r="3.05"/><circle cx="1082.2" cy="568.7" r="3.05"/><circle cx="1076.3" cy="573" r="3.05"/><circle cx="1073" cy="578.3" r="3.05"/><circle cx="1053" cy="582" r="3.05"/><circle cx="1041.3" cy="586.3" r="3.05"/><circle cx="1038.3" cy="590" r="3.05"/><circle cx="1032.5" cy="591.3" r="3.05"/><circle cx="1026.3" cy="593.3" r="3.05"/><circle cx="1022.5" cy="595.8" r="3.05"/><circle cx="1019.2" cy="597.5" r="3.05"/><circle cx="1015.8" cy="599.2" r="3.05"/><circle cx="1012.5" cy="600.8" r="3.05"/><circle cx="1008.3" cy="603.3" r="3.05"/><circle cx="1005.8" cy="605" r="3.05"/><circle cx="1000" cy="605.8" r="3.05"/><circle cx="996.7" cy="606.7" r="3.05"/></g>
<line x1="740.3" y1="800.3" x2="1051.7" y2="553" stroke="#000" stroke-width="1.4"/>
<rect x="671" y="534" width="518.5" height="286" fill="none" stroke="#222" stroke-width="1.7"/>
<path d="M665 547.75H671M665 590.7H671M665 633.65H671M665 676.6H671M665 719.55H671M665 762.5H671M665 805.45H671M697.1 820V826M770.02 820V826M842.93 820V826M915.85 820V826M988.77 820V826M1061.68 820V826M1134.6 820V826" stroke="#000" stroke-width="1.3" fill="none"/>
<g font-size="10" fill="#222"><text x="661.8" y="552.15" text-anchor="end">3</text><text x="661.8" y="595.1" text-anchor="end">2</text><text x="661.8" y="638.05" text-anchor="end">1</text><text x="661.8" y="681" text-anchor="end">0</text><text x="661.8" y="723.95" text-anchor="end">-1</text><text x="661.8" y="766.9" text-anchor="end">-2</text><text x="661.8" y="809.85" text-anchor="end">-3</text><text x="697.1" y="839.6" text-anchor="middle">0.0</text><text x="770.02" y="839.6" text-anchor="middle">2.5</text><text x="842.93" y="839.6" text-anchor="middle">5.0</text><text x="915.85" y="839.6" text-anchor="middle">7.5</text><text x="988.77" y="839.6" text-anchor="middle">10.0</text><text x="1061.68" y="839.6" text-anchor="middle">12.5</text><text x="1134.6" y="839.6" text-anchor="middle">15.0</text></g>
<text x="906.25" y="529.5" text-anchor="middle" font-size="11" fill="#111">for sex= Female</text>
<text x="929.25" y="859" text-anchor="middle" font-size="13.7" font-weight="bold" fill="#000">Observed Value</text>
<text transform="translate(643.2 674) rotate(-90)" text-anchor="middle" font-size="13.7" font-weight="bold" fill="#000">Expected Normal</text>
<text x="693.3" y="906.1" font-size="16.5" fill="#000">D</text>
<rect x="81" y="1031" width="518" height="286" fill="#f0f0f0"/>
<g fill="none" stroke="#000" stroke-width="1.5"><circle cx="172.38" cy="1257.82" r="3.05"/><circle cx="173.94" cy="1255.53" r="3.05"/><circle cx="174.71" cy="1253.45" r="3.05"/><circle cx="177.04" cy="1251.54" r="3.05"/><circle cx="178.6" cy="1249.77" r="3.05"/><circle cx="180.15" cy="1248.12" r="3.05"/><circle cx="182.49" cy="1246.57" r="3.05"/><circle cx="183.26" cy="1245.12" r="3.05"/><circle cx="184.04" cy="1243.74" r="3.05"/><circle cx="185.59" cy="1242.43" r="3.05"/><circle cx="186.37" cy="1241.18" r="3.05"/><circle cx="187.15" cy="1239.98" r="3.05"/><circle cx="187.93" cy="1238.83" r="3.05"/><circle cx="188.7" cy="1237.73" r="3.05"/><circle cx="189.48" cy="1236.67" r="3.05"/><circle cx="190.26" cy="1235.64" r="3.05"/><circle cx="191.03" cy="1234.65" r="3.05"/><circle cx="191.81" cy="1233.69" r="3.05"/><circle cx="192.59" cy="1232.76" r="3.05"/><circle cx="193.37" cy="1231.86" r="3.05"/><circle cx="194.14" cy="1230.98" r="3.05"/><circle cx="194.92" cy="1230.13" r="3.05"/><circle cx="195.7" cy="1229.29" r="3.05"/><circle cx="195.7" cy="1228.48" r="3.05"/><circle cx="196.47" cy="1227.68" r="3.05"/><circle cx="197.25" cy="1226.91" r="3.05"/><circle cx="198.03" cy="1226.15" r="3.05"/><circle cx="198.81" cy="1225.4" r="3.05"/><circle cx="199.58" cy="1224.68" r="3.05"/><circle cx="200.36" cy="1223.96" r="3.05"/><circle cx="201.14" cy="1223.26" r="3.05"/><circle cx="201.91" cy="1222.57" r="3.05"/><circle cx="202.69" cy="1221.9" r="3.05"/><circle cx="203.47" cy="1221.23" r="3.05"/><circle cx="204.25" cy="1220.58" r="3.05"/><circle cx="205.02" cy="1219.94" r="3.05"/><circle cx="205.8" cy="1219.31" r="3.05"/><circle cx="205.8" cy="1218.69" r="3.05"/><circle cx="206.58" cy="1218.07" r="3.05"/><circle cx="207.35" cy="1217.47" r="3.05"/><circle cx="208.13" cy="1216.87" r="3.05"/><circle cx="208.13" cy="1216.29" r="3.05"/><circle cx="208.91" cy="1215.71" r="3.05"/><circle cx="209.69" cy="1215.13" r="3.05"/><circle cx="209.69" cy="1214.57" r="3.05"/><circle cx="210.46" cy="1214.01" r="3.05"/><circle cx="211.24" cy="1213.46" r="3.05"/><circle cx="211.24" cy="1212.91" r="3.05"/><circle cx="212.02" cy="1212.38" r="3.05"/><circle cx="212.02" cy="1211.84" r="3.05"/><circle cx="212.79" cy="1211.32" r="3.05"/><circle cx="212.79" cy="1210.8" r="3.05"/><circle cx="213.57" cy="1210.28" r="3.05"/><circle cx="214.35" cy="1209.77" r="3.05"/><circle cx="214.35" cy="1209.26" r="3.05"/><circle cx="215.13" cy="1208.76" r="3.05"/><circle cx="215.13" cy="1208.27" r="3.05"/><circle cx="215.9" cy="1207.77" r="3.05"/><circle cx="215.9" cy="1207.29" r="3.05"/><circle cx="216.68" cy="1206.8" r="3.05"/><circle cx="217.46" cy="1206.32" r="3.05"/><circle cx="217.46" cy="1205.85" r="3.05"/><circle cx="218.23" cy="1205.38" r="3.05"/><circle cx="219.01" cy="1204.91" r="3.05"/><circle cx="219.01" cy="1204.45" r="3.05"/><circle cx="219.79" cy="1203.99" r="3.05"/><circle cx="219.79" cy="1203.53" r="3.05"/><circle cx="220.57" cy="1203.08" r="3.05"/><circle cx="221.34" cy="1202.63" r="3.05"/><circle cx="221.34" cy="1202.18" r="3.05"/><circle cx="222.12" cy="1201.74" r="3.05"/><circle cx="222.9" cy="1201.3" r="3.05"/><circle cx="222.9" cy="1200.86" r="3.05"/><circle cx="223.68" cy="1200.42" r="3.05"/><circle cx="223.68" cy="1199.99" r="3.05"/><circle cx="224.45" cy="1199.56" r="3.05"/><circle cx="224.45" cy="1199.13" r="3.05"/><circle cx="225.23" cy="1198.71" r="3.05"/><circle cx="225.23" cy="1198.28" r="3.05"/><circle cx="226.01" cy="1197.86" r="3.05"/><circle cx="226.01" cy="1197.45" r="3.05"/><circle cx="226.01" cy="1197.03" r="3.05"/><circle cx="226.78" cy="1196.62" r="3.05"/><circle cx="226.78" cy="1196.21" r="3.05"/><circle cx="227.56" cy="1195.8" r="3.05"/><circle cx="227.56" cy="1195.39" r="3.05"/><circle cx="228.34" cy="1194.98" r="3.05"/><circle cx="228.34" cy="1194.58" r="3.05"/><circle cx="228.34" cy="1194.18" r="3.05"/><circle cx="229.12" cy="1193.78" r="3.05"/><circle cx="229.12" cy="1193.38" r="3.05"/><circle cx="229.89" cy="1192.98" r="3.05"/><circle cx="229.89" cy="1192.59" r="3.05"/><circle cx="230.67" cy="1192.19" r="3.05"/><circle cx="230.67" cy="1191.8" r="3.05"/><circle cx="231.45" cy="1191.41" r="3.05"/><circle cx="231.45" cy="1191.02" r="3.05"/><circle cx="232.22" cy="1190.63" r="3.05"/><circle cx="233" cy="1190.25" r="3.05"/><circle cx="233" cy="1189.86" r="3.05"/><circle cx="233.78" cy="1189.48" r="3.05"/><circle cx="233.78" cy="1189.1" r="3.05"/><circle cx="234.56" cy="1188.72" r="3.05"/><circle cx="235.33" cy="1188.34" r="3.05"/><circle cx="235.33" cy="1187.96" r="3.05"/><circle cx="236.11" cy="1187.58" r="3.05"/><circle cx="236.89" cy="1187.2" r="3.05"/><circle cx="237.66" cy="1186.83" r="3.05"/><circle cx="238.44" cy="1186.45" r="3.05"/><circle cx="238.44" cy="1186.08" r="3.05"/><circle cx="239.22" cy="1185.7" r="3.05"/><circle cx="240" cy="1185.33" r="3.05"/><circle cx="240" cy="1184.96" r="3.05"/><circle cx="240.77" cy="1184.59" r="3.05"/><circle cx="241.55" cy="1184.22" r="3.05"/><circle cx="241.55" cy="1183.85" r="3.05"/><circle cx="242.33" cy="1183.48" r="3.05"/><circle cx="242.33" cy="1183.12" r="3.05"/><circle cx="243.1" cy="1182.75" r="3.05"/><circle cx="243.1" cy="1182.38" r="3.05"/><circle cx="243.88" cy="1182.02" r="3.05"/><circle cx="243.88" cy="1181.65" r="3.05"/><circle cx="244.66" cy="1181.29" r="3.05"/><circle cx="244.66" cy="1180.93" r="3.05"/><circle cx="245.44" cy="1180.56" r="3.05"/><circle cx="245.44" cy="1180.2" r="3.05"/><circle cx="246.21" cy="1179.84" r="3.05"/><circle cx="246.21" cy="1179.48" r="3.05"/><circle cx="246.99" cy="1179.11" r="3.05"/><circle cx="246.99" cy="1178.75" r="3.05"/><circle cx="247.77" cy="1178.39" r="3.05"/><circle cx="247.77" cy="1178.03" r="3.05"/><circle cx="248.54" cy="1177.67" r="3.05"/><circle cx="248.54" cy="1177.31" r="3.05"/><circle cx="249.32" cy="1176.95" r="3.05"/><circle cx="249.32" cy="1176.59" r="3.05"/><circle cx="250.1" cy="1176.23" r="3.05"/><circle cx="250.1" cy="1175.87" r="3.05"/><circle cx="250.1" cy="1175.51" r="3.05"/><circle cx="250.88" cy="1175.16" r="3.05"/><circle cx="250.88" cy="1174.8" r="3.05"/><circle cx="251.65" cy="1174.44" r="3.05"/><circle cx="251.65" cy="1174.08" r="3.05"/><circle cx="252.43" cy="1173.72" r="3.05"/><circle cx="252.43" cy="1173.36" r="3.05"/><circle cx="253.21" cy="1173" r="3.05"/><circle cx="253.21" cy="1172.64" r="3.05"/><circle cx="253.98" cy="1172.29" r="3.05"/><circle cx="253.98" cy="1171.93" r="3.05"/><circle cx="253.98" cy="1171.57" r="3.05"/><circle cx="254.76" cy="1171.21" r="3.05"/><circle cx="254.76" cy="1170.85" r="3.05"/><circle cx="255.54" cy="1170.49" r="3.05"/><circle cx="255.54" cy="1170.13" r="3.05"/><circle cx="256.32" cy="1169.77" r="3.05"/><circle cx="256.32" cy="1169.41" r="3.05"/><circle cx="256.32" cy="1169.05" r="3.05"/><circle cx="257.09" cy="1168.69" r="3.05"/><circle cx="257.09" cy="1168.32" r="3.05"/><circle cx="257.87" cy="1167.96" r="3.05"/><circle cx="257.87" cy="1167.6" r="3.05"/><circle cx="257.87" cy="1167.24" r="3.05"/><circle cx="258.65" cy="1166.87" r="3.05"/><circle cx="258.65" cy="1166.51" r="3.05"/><circle cx="259.42" cy="1166.15" r="3.05"/><circle cx="259.42" cy="1165.78" r="3.05"/><circle cx="260.2" cy="1165.42" r="3.05"/><circle cx="260.2" cy="1165.05" r="3.05"/><circle cx="260.98" cy="1164.68" r="3.05"/><circle cx="261.76" cy="1164.32" r="3.05"/><circle cx="261.76" cy="1163.95" r="3.05"/><circle cx="262.53" cy="1163.58" r="3.05"/><circle cx="263.31" cy="1163.21" r="3.05"/><circle cx="263.31" cy="1162.84" r="3.05"/><circle cx="264.09" cy="1162.47" r="3.05"/><circle cx="264.86" cy="1162.1" r="3.05"/><circle cx="264.86" cy="1161.72" r="3.05"/><circle cx="265.64" cy="1161.35" r="3.05"/><circle cx="266.42" cy="1160.97" r="3.05"/><circle cx="267.2" cy="1160.6" r="3.05"/><circle cx="267.2" cy="1160.22" r="3.05"/><circle cx="267.97" cy="1159.84" r="3.05"/><circle cx="267.97" cy="1159.46" r="3.05"/><circle cx="268.75" cy="1159.08" r="3.05"/><circle cx="269.53" cy="1158.7" r="3.05"/><circle cx="269.53" cy="1158.32" r="3.05"/><circle cx="270.3" cy="1157.94" r="3.05"/><circle cx="270.3" cy="1157.55" r="3.05"/><circle cx="271.08" cy="1157.17" r="3.05"/><circle cx="271.86" cy="1156.78" r="3.05"/><circle cx="271.86" cy="1156.39" r="3.05"/><circle cx="272.64" cy="1156" r="3.05"/><circle cx="272.64" cy="1155.61" r="3.05"/><circle cx="273.41" cy="1155.21" r="3.05"/><circle cx="274.19" cy="1154.82" r="3.05"/><circle cx="274.97" cy="1154.42" r="3.05"/><circle cx="275.75" cy="1154.02" r="3.05"/><circle cx="276.52" cy="1153.62" r="3.05"/><circle cx="277.3" cy="1153.22" r="3.05"/><circle cx="278.08" cy="1152.82" r="3.05"/><circle cx="278.85" cy="1152.41" r="3.05"/><circle cx="279.63" cy="1152" r="3.05"/><circle cx="280.41" cy="1151.59" r="3.05"/><circle cx="280.41" cy="1151.18" r="3.05"/><circle cx="281.19" cy="1150.77" r="3.05"/><circle cx="281.96" cy="1150.35" r="3.05"/><circle cx="282.74" cy="1149.94" r="3.05"/><circle cx="282.74" cy="1149.52" r="3.05"/><circle cx="283.52" cy="1149.09" r="3.05"/><circle cx="284.29" cy="1148.67" r="3.05"/><circle cx="284.29" cy="1148.24" r="3.05"/><circle cx="285.07" cy="1147.81" r="3.05"/><circle cx="285.85" cy="1147.38" r="3.05"/><circle cx="286.63" cy="1146.94" r="3.05"/><circle cx="286.63" cy="1146.5" r="3.05"/><circle cx="287.4" cy="1146.06" r="3.05"/><circle cx="288.18" cy="1145.62" r="3.05"/><circle cx="288.18" cy="1145.17" r="3.05"/><circle cx="288.96" cy="1144.72" r="3.05"/><circle cx="289.73" cy="1144.27" r="3.05"/><circle cx="289.73" cy="1143.81" r="3.05"/><circle cx="290.51" cy="1143.35" r="3.05"/><circle cx="290.51" cy="1142.89" r="3.05"/><circle cx="291.29" cy="1142.42" r="3.05"/><circle cx="292.07" cy="1141.95" r="3.05"/><circle cx="292.07" cy="1141.48" r="3.05"/><circle cx="292.84" cy="1141" r="3.05"/><circle cx="293.62" cy="1140.51" r="3.05"/><circle cx="293.62" cy="1140.03" r="3.05"/><circle cx="294.4" cy="1139.53" r="3.05"/><circle cx="295.17" cy="1139.04" r="3.05"/><circle cx="295.17" cy="1138.54" r="3.05"/><circle cx="295.95" cy="1138.03" r="3.05"/><circle cx="296.73" cy="1137.52" r="3.05"/><circle cx="296.73" cy="1137" r="3.05"/><circle cx="297.51" cy="1136.48" r="3.05"/><circle cx="298.28" cy="1135.96" r="3.05"/><circle cx="299.06" cy="1135.42" r="3.05"/><circle cx="299.06" cy="1134.89" r="3.05"/><circle cx="299.84" cy="1134.34" r="3.05"/><circle cx="300.61" cy="1133.79" r="3.05"/><circle cx="300.61" cy="1133.23" r="3.05"/><circle cx="301.39" cy="1132.67" r="3.05"/><circle cx="301.39" cy="1132.09" r="3.05"/><circle cx="302.17" cy="1131.51" r="3.05"/><circle cx="302.17" cy="1130.93" r="3.05"/><circle cx="302.95" cy="1130.33" r="3.05"/><circle cx="302.95" cy="1129.73" r="3.05"/><circle cx="303.72" cy="1129.11" r="3.05"/><circle cx="304.5" cy="1128.49" r="3.05"/><circle cx="305.28" cy="1127.86" r="3.05"/><circle cx="306.05" cy="1127.22" r="3.05"/><circle cx="306.83" cy="1126.57" r="3.05"/><circle cx="307.61" cy="1125.9" r="3.05"/><circle cx="309.16" cy="1125.23" r="3.05"/><circle cx="309.94" cy="1124.54" r="3.05"/><circle cx="310.72" cy="1123.84" r="3.05"/><circle cx="312.27" cy="1123.12" r="3.05"/><circle cx="313.05" cy="1122.4" r="3.05"/><circle cx="314.6" cy="1121.65" r="3.05"/><circle cx="315.38" cy="1120.89" r="3.05"/><circle cx="316.93" cy="1120.12" r="3.05"/><circle cx="317.71" cy="1119.32" r="3.05"/><circle cx="318.49" cy="1118.51" r="3.05"/><circle cx="320.04" cy="1117.67" r="3.05"/><circle cx="321.6" cy="1116.82" r="3.05"/><circle cx="323.15" cy="1115.94" r="3.05"/><circle cx="324.71" cy="1115.04" r="3.05"/><circle cx="326.26" cy="1114.11" r="3.05"/><circle cx="327.82" cy="1113.15" r="3.05"/><circle cx="330.15" cy="1112.16" r="3.05"/><circle cx="331.7" cy="1111.13" r="3.05"/><circle cx="334.03" cy="1110.07" r="3.05"/><circle cx="336.36" cy="1108.97" r="3.05"/><circle cx="337.92" cy="1107.82" r="3.05"/><circle cx="341.03" cy="1106.62" r="3.05"/><circle cx="344.14" cy="1105.37" r="3.05"/><circle cx="347.24" cy="1104.06" r="3.05"/><circle cx="350.35" cy="1102.68" r="3.05"/><circle cx="353.46" cy="1101.23" r="3.05"/><circle cx="355.02" cy="1099.68" r="3.05"/><circle cx="356.57" cy="1098.03" r="3.05"/><circle cx="360.46" cy="1096.26" r="3.05"/><circle cx="364.34" cy="1094.35" r="3.05"/><circle cx="366.67" cy="1092.27" r="3.05"/><circle cx="143.5" cy="1288" r="3.05"/><circle cx="148" cy="1282" r="3.05"/><circle cx="151.5" cy="1277.5" r="3.05"/><circle cx="154.5" cy="1274" r="3.05"/><circle cx="164.5" cy="1269.5" r="3.05"/><circle cx="167" cy="1265" r="3.05"/><circle cx="371.7" cy="1090.4" r="3.05"/><circle cx="377.5" cy="1087.9" r="3.05"/><circle cx="382.5" cy="1085.4" r="3.05"/><circle cx="383.3" cy="1082.5" r="3.05"/><circle cx="388.3" cy="1079.2" r="3.05"/><circle cx="389.6" cy="1077.5" r="3.05"/><circle cx="395.8" cy="1073.75" r="3.05"/><circle cx="404.2" cy="1070" r="3.05"/><circle cx="415.8" cy="1065.5" r="3.05"/><circle cx="482" cy="1059.7" r="3.05"/><circle cx="543.3" cy="1050" r="3.05"/></g>
<line x1="110" y1="1297.5" x2="403.3" y2="1050.3" stroke="#000" stroke-width="1.4"/>
<rect x="81" y="1031" width="518" height="286" fill="none" stroke="#222" stroke-width="1.7"/>
<path d="M75 1045H81M75 1087.97H81M75 1130.93H81M75 1173.9H81M75 1216.87H81M75 1259.83H81M75 1302.8H81M107.1 1317V1323M184.82 1317V1323M262.53 1317V1323M340.25 1317V1323M417.97 1317V1323M495.68 1317V1323M573.4 1317V1323" stroke="#000" stroke-width="1.3" fill="none"/>
<g font-size="10" fill="#222"><text x="71.8" y="1049.4" text-anchor="end">3</text><text x="71.8" y="1092.37" text-anchor="end">2</text><text x="71.8" y="1135.33" text-anchor="end">1</text><text x="71.8" y="1178.3" text-anchor="end">0</text><text x="71.8" y="1221.27" text-anchor="end">-1</text><text x="71.8" y="1264.23" text-anchor="end">-2</text><text x="71.8" y="1307.2" text-anchor="end">-3</text><text x="107.1" y="1336.6" text-anchor="middle">100</text><text x="184.82" y="1336.6" text-anchor="middle">200</text><text x="262.53" y="1336.6" text-anchor="middle">300</text><text x="340.25" y="1336.6" text-anchor="middle">400</text><text x="417.97" y="1336.6" text-anchor="middle">500</text><text x="495.68" y="1336.6" text-anchor="middle">600</text><text x="573.4" y="1336.6" text-anchor="middle">700</text></g>
<text x="316.25" y="1026.5" text-anchor="middle" font-size="11" fill="#111">for sex= Female</text>
<text x="339" y="1356" text-anchor="middle" font-size="13.7" font-weight="bold" fill="#000">Observed Value</text>
<text transform="translate(53.2 1171) rotate(-90)" text-anchor="middle" font-size="13.7" font-weight="bold" fill="#000">Expected Normal</text>
<text x="22.3" y="1403.4" font-size="16.5" fill="#000">E</text>
<rect x="671" y="1031" width="518.5" height="286" fill="#f0f0f0"/>
<g fill="none" stroke="#000" stroke-width="1.5"><circle cx="827.66" cy="1253.46" r="3.05"/><circle cx="828.44" cy="1251.55" r="3.05"/><circle cx="829.22" cy="1249.78" r="3.05"/><circle cx="830" cy="1248.13" r="3.05"/><circle cx="830.77" cy="1246.59" r="3.05"/><circle cx="831.55" cy="1245.13" r="3.05"/><circle cx="832.33" cy="1243.76" r="3.05"/><circle cx="833.1" cy="1242.45" r="3.05"/><circle cx="834.66" cy="1241.2" r="3.05"/><circle cx="835.44" cy="1240" r="3.05"/><circle cx="836.99" cy="1238.86" r="3.05"/><circle cx="837.77" cy="1237.76" r="3.05"/><circle cx="839.32" cy="1236.7" r="3.05"/><circle cx="840.1" cy="1235.67" r="3.05"/><circle cx="840.88" cy="1234.68" r="3.05"/><circle cx="841.65" cy="1233.72" r="3.05"/><circle cx="842.43" cy="1232.8" r="3.05"/><circle cx="843.21" cy="1231.89" r="3.05"/><circle cx="843.21" cy="1231.01" r="3.05"/><circle cx="843.98" cy="1230.16" r="3.05"/><circle cx="844.76" cy="1229.33" r="3.05"/><circle cx="845.54" cy="1228.51" r="3.05"/><circle cx="846.32" cy="1227.72" r="3.05"/><circle cx="846.32" cy="1226.95" r="3.05"/><circle cx="847.09" cy="1226.19" r="3.05"/><circle cx="847.87" cy="1225.44" r="3.05"/><circle cx="847.87" cy="1224.72" r="3.05"/><circle cx="848.65" cy="1224" r="3.05"/><circle cx="849.42" cy="1223.3" r="3.05"/><circle cx="849.42" cy="1222.62" r="3.05"/><circle cx="850.2" cy="1221.94" r="3.05"/><circle cx="850.98" cy="1221.28" r="3.05"/><circle cx="850.98" cy="1220.63" r="3.05"/><circle cx="851.76" cy="1219.99" r="3.05"/><circle cx="851.76" cy="1219.36" r="3.05"/><circle cx="852.53" cy="1218.73" r="3.05"/><circle cx="852.53" cy="1218.12" r="3.05"/><circle cx="853.31" cy="1217.52" r="3.05"/><circle cx="853.31" cy="1216.92" r="3.05"/><circle cx="854.09" cy="1216.34" r="3.05"/><circle cx="854.09" cy="1215.76" r="3.05"/><circle cx="854.09" cy="1215.19" r="3.05"/><circle cx="854.86" cy="1214.62" r="3.05"/><circle cx="854.86" cy="1214.06" r="3.05"/><circle cx="855.64" cy="1213.51" r="3.05"/><circle cx="855.64" cy="1212.97" r="3.05"/><circle cx="856.42" cy="1212.43" r="3.05"/><circle cx="856.42" cy="1211.9" r="3.05"/><circle cx="856.42" cy="1211.37" r="3.05"/><circle cx="857.2" cy="1210.85" r="3.05"/><circle cx="857.2" cy="1210.34" r="3.05"/><circle cx="857.97" cy="1209.83" r="3.05"/><circle cx="857.97" cy="1209.32" r="3.05"/><circle cx="858.75" cy="1208.82" r="3.05"/><circle cx="858.75" cy="1208.33" r="3.05"/><circle cx="858.75" cy="1207.83" r="3.05"/><circle cx="859.53" cy="1207.35" r="3.05"/><circle cx="859.53" cy="1206.87" r="3.05"/><circle cx="860.31" cy="1206.39" r="3.05"/><circle cx="860.31" cy="1205.91" r="3.05"/><circle cx="861.08" cy="1205.44" r="3.05"/><circle cx="861.08" cy="1204.98" r="3.05"/><circle cx="861.86" cy="1204.51" r="3.05"/><circle cx="861.86" cy="1204.05" r="3.05"/><circle cx="862.64" cy="1203.6" r="3.05"/><circle cx="862.64" cy="1203.14" r="3.05"/><circle cx="863.41" cy="1202.69" r="3.05"/><circle cx="863.41" cy="1202.25" r="3.05"/><circle cx="864.19" cy="1201.8" r="3.05"/><circle cx="864.19" cy="1201.36" r="3.05"/><circle cx="864.97" cy="1200.93" r="3.05"/><circle cx="864.97" cy="1200.49" r="3.05"/><circle cx="865.75" cy="1200.06" r="3.05"/><circle cx="865.75" cy="1199.63" r="3.05"/><circle cx="866.52" cy="1199.2" r="3.05"/><circle cx="866.52" cy="1198.78" r="3.05"/><circle cx="867.3" cy="1198.36" r="3.05"/><circle cx="867.3" cy="1197.94" r="3.05"/><circle cx="868.08" cy="1197.52" r="3.05"/><circle cx="868.08" cy="1197.1" r="3.05"/><circle cx="868.85" cy="1196.69" r="3.05"/><circle cx="868.85" cy="1196.28" r="3.05"/><circle cx="869.63" cy="1195.87" r="3.05"/><circle cx="869.63" cy="1195.46" r="3.05"/><circle cx="870.41" cy="1195.06" r="3.05"/><circle cx="870.41" cy="1194.66" r="3.05"/><circle cx="871.19" cy="1194.25" r="3.05"/><circle cx="871.19" cy="1193.85" r="3.05"/><circle cx="871.96" cy="1193.46" r="3.05"/><circle cx="871.96" cy="1193.06" r="3.05"/><circle cx="872.74" cy="1192.67" r="3.05"/><circle cx="872.74" cy="1192.27" r="3.05"/><circle cx="873.52" cy="1191.88" r="3.05"/><circle cx="873.52" cy="1191.49" r="3.05"/><circle cx="874.29" cy="1191.1" r="3.05"/><circle cx="874.29" cy="1190.72" r="3.05"/><circle cx="875.07" cy="1190.33" r="3.05"/><circle cx="875.85" cy="1189.94" r="3.05"/><circle cx="875.85" cy="1189.56" r="3.05"/><circle cx="876.63" cy="1189.18" r="3.05"/><circle cx="877.4" cy="1188.8" r="3.05"/><circle cx="877.4" cy="1188.42" r="3.05"/><circle cx="878.18" cy="1188.04" r="3.05"/><circle cx="878.96" cy="1187.66" r="3.05"/><circle cx="878.96" cy="1187.29" r="3.05"/><circle cx="879.73" cy="1186.91" r="3.05"/><circle cx="880.51" cy="1186.54" r="3.05"/><circle cx="880.51" cy="1186.16" r="3.05"/><circle cx="881.29" cy="1185.79" r="3.05"/><circle cx="881.29" cy="1185.42" r="3.05"/><circle cx="882.07" cy="1185.05" r="3.05"/><circle cx="882.84" cy="1184.68" r="3.05"/><circle cx="882.84" cy="1184.31" r="3.05"/><circle cx="883.62" cy="1183.94" r="3.05"/><circle cx="883.62" cy="1183.57" r="3.05"/><circle cx="884.4" cy="1183.21" r="3.05"/><circle cx="885.17" cy="1182.84" r="3.05"/><circle cx="885.17" cy="1182.47" r="3.05"/><circle cx="885.95" cy="1182.11" r="3.05"/><circle cx="885.95" cy="1181.75" r="3.05"/><circle cx="885.95" cy="1181.38" r="3.05"/><circle cx="886.73" cy="1181.02" r="3.05"/><circle cx="886.73" cy="1180.65" r="3.05"/><circle cx="887.51" cy="1180.29" r="3.05"/><circle cx="887.51" cy="1179.93" r="3.05"/><circle cx="888.28" cy="1179.57" r="3.05"/><circle cx="888.28" cy="1179.21" r="3.05"/><circle cx="889.06" cy="1178.85" r="3.05"/><circle cx="889.06" cy="1178.49" r="3.05"/><circle cx="889.84" cy="1178.13" r="3.05"/><circle cx="889.84" cy="1177.77" r="3.05"/><circle cx="890.61" cy="1177.41" r="3.05"/><circle cx="890.61" cy="1177.05" r="3.05"/><circle cx="891.39" cy="1176.69" r="3.05"/><circle cx="891.39" cy="1176.33" r="3.05"/><circle cx="891.39" cy="1175.97" r="3.05"/><circle cx="892.17" cy="1175.61" r="3.05"/><circle cx="892.17" cy="1175.25" r="3.05"/><circle cx="892.95" cy="1174.9" r="3.05"/><circle cx="892.95" cy="1174.54" r="3.05"/><circle cx="892.95" cy="1174.18" r="3.05"/><circle cx="893.72" cy="1173.82" r="3.05"/><circle cx="893.72" cy="1173.46" r="3.05"/><circle cx="894.5" cy="1173.1" r="3.05"/><circle cx="894.5" cy="1172.75" r="3.05"/><circle cx="894.5" cy="1172.39" r="3.05"/><circle cx="895.28" cy="1172.03" r="3.05"/><circle cx="895.28" cy="1171.67" r="3.05"/><circle cx="896.05" cy="1171.31" r="3.05"/><circle cx="896.05" cy="1170.95" r="3.05"/><circle cx="896.05" cy="1170.59" r="3.05"/><circle cx="896.83" cy="1170.23" r="3.05"/><circle cx="896.83" cy="1169.87" r="3.05"/><circle cx="897.61" cy="1169.51" r="3.05"/><circle cx="897.61" cy="1169.15" r="3.05"/><circle cx="897.61" cy="1168.79" r="3.05"/><circle cx="898.39" cy="1168.43" r="3.05"/><circle cx="898.39" cy="1168.07" r="3.05"/><circle cx="899.16" cy="1167.71" r="3.05"/><circle cx="899.16" cy="1167.35" r="3.05"/><circle cx="899.16" cy="1166.98" r="3.05"/><circle cx="899.94" cy="1166.62" r="3.05"/><circle cx="899.94" cy="1166.25" r="3.05"/><circle cx="899.94" cy="1165.89" r="3.05"/><circle cx="900.72" cy="1165.53" r="3.05"/><circle cx="900.72" cy="1165.16" r="3.05"/><circle cx="901.49" cy="1164.79" r="3.05"/><circle cx="901.49" cy="1164.43" r="3.05"/><circle cx="901.49" cy="1164.06" r="3.05"/><circle cx="902.27" cy="1163.69" r="3.05"/><circle cx="902.27" cy="1163.32" r="3.05"/><circle cx="903.05" cy="1162.95" r="3.05"/><circle cx="903.05" cy="1162.58" r="3.05"/><circle cx="903.05" cy="1162.21" r="3.05"/><circle cx="903.83" cy="1161.84" r="3.05"/><circle cx="903.83" cy="1161.46" r="3.05"/><circle cx="904.6" cy="1161.09" r="3.05"/><circle cx="904.6" cy="1160.71" r="3.05"/><circle cx="904.6" cy="1160.34" r="3.05"/><circle cx="905.38" cy="1159.96" r="3.05"/><circle cx="906.16" cy="1159.58" r="3.05"/><circle cx="906.16" cy="1159.2" r="3.05"/><circle cx="906.94" cy="1158.82" r="3.05"/><circle cx="907.71" cy="1158.44" r="3.05"/><circle cx="907.71" cy="1158.06" r="3.05"/><circle cx="908.49" cy="1157.67" r="3.05"/><circle cx="908.49" cy="1157.28" r="3.05"/><circle cx="909.27" cy="1156.9" r="3.05"/><circle cx="910.04" cy="1156.51" r="3.05"/><circle cx="910.04" cy="1156.12" r="3.05"/><circle cx="910.82" cy="1155.73" r="3.05"/><circle cx="911.6" cy="1155.33" r="3.05"/><circle cx="911.6" cy="1154.94" r="3.05"/><circle cx="912.38" cy="1154.54" r="3.05"/><circle cx="913.15" cy="1154.15" r="3.05"/><circle cx="913.15" cy="1153.75" r="3.05"/><circle cx="913.93" cy="1153.34" r="3.05"/><circle cx="913.93" cy="1152.94" r="3.05"/><circle cx="914.71" cy="1152.54" r="3.05"/><circle cx="915.48" cy="1152.13" r="3.05"/><circle cx="915.48" cy="1151.72" r="3.05"/><circle cx="916.26" cy="1151.31" r="3.05"/><circle cx="917.04" cy="1150.9" r="3.05"/><circle cx="917.04" cy="1150.48" r="3.05"/><circle cx="917.82" cy="1150.06" r="3.05"/><circle cx="918.59" cy="1149.64" r="3.05"/><circle cx="918.59" cy="1149.22" r="3.05"/><circle cx="919.37" cy="1148.8" r="3.05"/><circle cx="919.37" cy="1148.37" r="3.05"/><circle cx="920.15" cy="1147.94" r="3.05"/><circle cx="920.15" cy="1147.51" r="3.05"/><circle cx="920.92" cy="1147.07" r="3.05"/><circle cx="921.7" cy="1146.64" r="3.05"/><circle cx="921.7" cy="1146.2" r="3.05"/><circle cx="922.48" cy="1145.75" r="3.05"/><circle cx="922.48" cy="1145.31" r="3.05"/><circle cx="923.26" cy="1144.86" r="3.05"/><circle cx="923.26" cy="1144.4" r="3.05"/><circle cx="924.03" cy="1143.95" r="3.05"/><circle cx="924.81" cy="1143.49" r="3.05"/><circle cx="924.81" cy="1143.02" r="3.05"/><circle cx="925.59" cy="1142.56" r="3.05"/><circle cx="925.59" cy="1142.09" r="3.05"/><circle cx="926.36" cy="1141.61" r="3.05"/><circle cx="927.14" cy="1141.13" r="3.05"/><circle cx="927.14" cy="1140.65" r="3.05"/><circle cx="927.92" cy="1140.17" r="3.05"/><circle cx="928.7" cy="1139.67" r="3.05"/><circle cx="928.7" cy="1139.18" r="3.05"/><circle cx="929.47" cy="1138.68" r="3.05"/><circle cx="930.25" cy="1138.17" r="3.05"/><circle cx="931.03" cy="1137.66" r="3.05"/><circle cx="931.03" cy="1137.15" r="3.05"/><circle cx="931.8" cy="1136.63" r="3.05"/><circle cx="932.58" cy="1136.1" r="3.05"/><circle cx="933.36" cy="1135.57" r="3.05"/><circle cx="933.36" cy="1135.03" r="3.05"/><circle cx="934.14" cy="1134.49" r="3.05"/><circle cx="934.91" cy="1133.94" r="3.05"/><circle cx="935.69" cy="1133.38" r="3.05"/><circle cx="936.47" cy="1132.81" r="3.05"/><circle cx="937.24" cy="1132.24" r="3.05"/><circle cx="938.02" cy="1131.66" r="3.05"/><circle cx="938.8" cy="1131.08" r="3.05"/><circle cx="938.8" cy="1130.48" r="3.05"/><circle cx="939.58" cy="1129.88" r="3.05"/><circle cx="940.35" cy="1129.27" r="3.05"/><circle cx="940.35" cy="1128.64" r="3.05"/><circle cx="941.13" cy="1128.01" r="3.05"/><circle cx="941.91" cy="1127.37" r="3.05"/><circle cx="941.91" cy="1126.72" r="3.05"/><circle cx="942.68" cy="1126.06" r="3.05"/><circle cx="943.46" cy="1125.38" r="3.05"/><circle cx="944.24" cy="1124.7" r="3.05"/><circle cx="945.79" cy="1124" r="3.05"/><circle cx="946.57" cy="1123.28" r="3.05"/><circle cx="947.35" cy="1122.56" r="3.05"/><circle cx="948.9" cy="1121.81" r="3.05"/><circle cx="949.68" cy="1121.05" r="3.05"/><circle cx="951.23" cy="1120.28" r="3.05"/><circle cx="952.79" cy="1119.49" r="3.05"/><circle cx="954.34" cy="1118.67" r="3.05"/><circle cx="955.9" cy="1117.84" r="3.05"/><circle cx="957.45" cy="1116.99" r="3.05"/><circle cx="959.01" cy="1116.11" r="3.05"/><circle cx="961.34" cy="1115.2" r="3.05"/><circle cx="962.89" cy="1114.28" r="3.05"/><circle cx="964.45" cy="1113.32" r="3.05"/><circle cx="966" cy="1112.33" r="3.05"/><circle cx="967.55" cy="1111.3" r="3.05"/><circle cx="969.11" cy="1110.24" r="3.05"/><circle cx="970.66" cy="1109.14" r="3.05"/><circle cx="972.99" cy="1108" r="3.05"/><circle cx="974.55" cy="1106.8" r="3.05"/><circle cx="780.2" cy="1298.2" r="3.05"/><circle cx="782.7" cy="1288.5" r="3.05"/><circle cx="784.5" cy="1282.2" r="3.05"/><circle cx="793.2" cy="1278.2" r="3.05"/><circle cx="796.5" cy="1275" r="3.05"/><circle cx="798" cy="1272.5" r="3.05"/><circle cx="798.7" cy="1270.8" r="3.05"/><circle cx="809.5" cy="1269" r="3.05"/><circle cx="815.5" cy="1266.8" r="3.05"/><circle cx="818" cy="1264.5" r="3.05"/><circle cx="820.5" cy="1262" r="3.05"/><circle cx="825" cy="1259.5" r="3.05"/><circle cx="980.8" cy="1104.25" r="3.05"/><circle cx="986.1" cy="1102.5" r="3.05"/><circle cx="993.7" cy="1101.3" r="3.05"/><circle cx="998.3" cy="1098.4" r="3.05"/><circle cx="1001.25" cy="1094.9" r="3.05"/><circle cx="1006.5" cy="1091.4" r="3.05"/><circle cx="1015.25" cy="1090" r="3.05"/><circle cx="1018.25" cy="1088.3" r="3.05"/><circle cx="1022.75" cy="1086.8" r="3.05"/><circle cx="1026.5" cy="1085.75" r="3.05"/><circle cx="1027.7" cy="1083.5" r="3.05"/><circle cx="1031.75" cy="1081.7" r="3.05"/><circle cx="1034" cy="1079.3" r="3.05"/><circle cx="1034.75" cy="1075.7" r="3.05"/><circle cx="1044.5" cy="1073.75" r="3.05"/><circle cx="1046" cy="1069.25" r="3.05"/><circle cx="1074.2" cy="1065.2" r="3.05"/><circle cx="1089.8" cy="1059.2" r="3.05"/><circle cx="1091.3" cy="1049.75" r="3.05"/></g>
<line x1="763" y1="1298" x2="1031.3" y2="1050.2" stroke="#000" stroke-width="1.4"/>
<rect x="671" y="1031" width="518.5" height="286" fill="none" stroke="#222" stroke-width="1.7"/>
<path d="M665 1045.25H671M665 1088.17H671M665 1131.08H671M665 1174H671M665 1216.92H671M665 1259.83H671M665 1302.75H671M697.1 1317V1323M774.82 1317V1323M852.53 1317V1323M930.25 1317V1323M1007.97 1317V1323M1085.68 1317V1323M1163.4 1317V1323" stroke="#000" stroke-width="1.3" fill="none"/>
<g font-size="10" fill="#222"><text x="661.8" y="1049.65" text-anchor="end">3</text><text x="661.8" y="1092.57" text-anchor="end">2</text><text x="661.8" y="1135.48" text-anchor="end">1</text><text x="661.8" y="1178.4" text-anchor="end">0</text><text x="661.8" y="1221.32" text-anchor="end">-1</text><text x="661.8" y="1264.23" text-anchor="end">-2</text><text x="661.8" y="1307.15" text-anchor="end">-3</text><text x="697.1" y="1336.6" text-anchor="middle">0</text><text x="774.82" y="1336.6" text-anchor="middle">100</text><text x="852.53" y="1336.6" text-anchor="middle">200</text><text x="930.25" y="1336.6" text-anchor="middle">300</text><text x="1007.97" y="1336.6" text-anchor="middle">400</text><text x="1085.68" y="1336.6" text-anchor="middle">500</text><text x="1163.4" y="1336.6" text-anchor="middle">600</text></g>
<text x="907.3" y="1026.2" text-anchor="middle" font-size="11" fill="#111">for sex= Male</text>
<text x="929.25" y="1356" text-anchor="middle" font-size="13.7" font-weight="bold" fill="#000">Observed Value</text>
<text transform="translate(643.2 1171) rotate(-90)" text-anchor="middle" font-size="13.7" font-weight="bold" fill="#000">Expected Normal</text>
<text x="693.3" y="1403.4" font-size="16.5" fill="#000">F</text>
</svg>
</body></html>
